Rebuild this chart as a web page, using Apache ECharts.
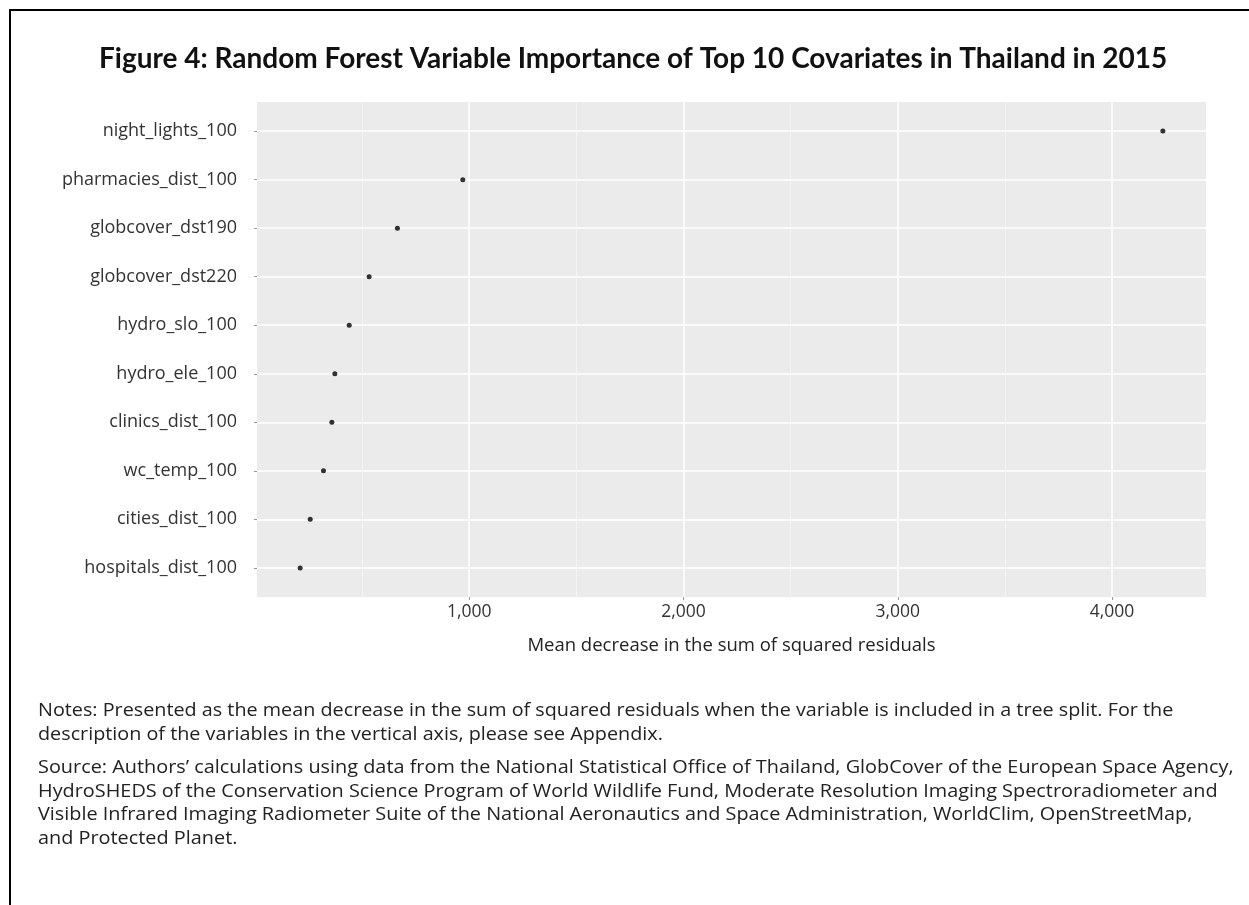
<!DOCTYPE html>
<html>
<head>
<meta charset="utf-8">
<script src="https://cdn.jsdelivr.net/npm/echarts@6/dist/echarts.min.js"></script>
<style>
html,body{margin:0;padding:0;background:#fff;}
#chart{width:1249px;height:905px;}
</style>
</head>
<body>
<div id="chart"></div>
<script>
const titleText = 'Figure 4: Random Forest Variable Importance of Top 10 Covariates in Thailand in 2015';
const variables = ['night_lights_100', 'pharmacies_dist_100', 'globcover_dst190', 'globcover_dst220', 'hydro_slo_100', 'hydro_ele_100', 'clinics_dist_100', 'wc_temp_100', 'cities_dist_100', 'hospitals_dist_100'];
const importance = [4237, 970, 665, 533, 440, 373, 359, 320, 258, 211];
const xMajorTicks = [1000, 2000, 3000, 4000];
const xMinorTicks = [500, 1500, 2500, 3500];
const xAxisName = 'Mean decrease in the sum of squared residuals';
const noteLines = [
  'Notes: Presented as the mean decrease in the sum of squared residuals when the variable is included in a tree split. For the',
  'description of the variables in the vertical axis, please see Appendix.'
];
const sourceLines = [
  'Source: Authors\u2019 calculations using data from the National Statistical Office of Thailand, GlobCover of the European Space Agency,',
  'HydroSHEDS of the Conservation Science Program of World Wildlife Fund, Moderate Resolution Imaging Spectroradiometer and',
  'Visible Infrared Imaging Radiometer Suite of the National Aeronautics and Space Administration, WorldClim, OpenStreetMap,',
  'and Protected Planet.'
];

const FONT = '"Open Sans", Lato, sans-serif';
const rowIdx = variables.map((_, i) => i);
const xMin = 9.7, xMax = 4438.3;

const chart = echarts.init(document.getElementById('chart'), null, {renderer: 'canvas'});

const textGraphics = [];
noteLines.forEach((t, i) => textGraphics.push({
  type: 'text', x: 38, y: 702 + i * 24, scaleX: 1.13,
  style: {text: t, font: '17.5px ' + FONT, fill: '#222'}
}));
sourceLines.forEach((t, i) => textGraphics.push({
  type: 'text', x: 38, y: 759 + i * 23.7, scaleX: 1.135,
  style: {text: t, font: '17.5px ' + FONT, fill: '#222'}
}));

chart.setOption({
  backgroundColor: '#ffffff',
  animation: false,
  title: {
    text: titleText, left: 94, top: 40,
    textStyle: {fontFamily: 'Lato, sans-serif', fontWeight: 'bold', fontSize: 28, color: '#111'}
  },
  graphic: [
    {type: 'rect', shape: {x: 10, y: 10, width: 1400, height: 1000}, style: {fill: 'none', stroke: '#000', lineWidth: 2}, z: 100}
  ].concat(textGraphics),
  grid: {left: 257, top: 102, right: 43, bottom: 308, show: true, backgroundColor: '#EBEBEB', borderWidth: 0},
  xAxis: [
    {
      type: 'value', min: xMin, max: xMax,
      name: xAxisName, nameLocation: 'middle', nameGap: 39,
      nameTextStyle: {fontFamily: FONT, fontSize: 18.5, color: '#222'},
      axisLine: {show: false, onZero: false},
      axisTick: {show: true, length: 3, lineStyle: {color: '#999'}, customValues: xMajorTicks},
      axisLabel: {fontFamily: FONT, fontSize: 17.5, color: '#333', margin: 6, customValues: xMajorTicks,
        formatter: v => v.toLocaleString('en-US')},
      splitLine: {show: true, lineStyle: {color: '#ffffff', width: 1.5}}
    },
    {
      type: 'value', min: xMin, max: xMax, position: 'bottom',
      axisLine: {show: false, onZero: false}, axisLabel: {show: false},
      axisTick: {show: false, customValues: xMinorTicks},
      splitLine: {show: true, lineStyle: {color: '#F6F6F6', width: 0.8}}
    }
  ],
  yAxis: {
    type: 'value', min: -0.6, max: 9.6, inverse: true,
    axisLine: {show: false, onZero: false},
    axisTick: {show: true, length: 3, lineStyle: {color: '#999'}, customValues: rowIdx},
    axisLabel: {fontFamily: FONT, fontSize: 18, color: '#333', margin: 20, customValues: rowIdx,
      formatter: v => variables[Math.round(v)] || ''},
    splitLine: {show: true, lineStyle: {color: '#ffffff', width: 1.5}}
  },
  series: [{
    type: 'scatter', xAxisIndex: 0,
    symbol: 'circle', symbolSize: 5,
    itemStyle: {color: '#000'},
    data: importance.map((v, i) => [v, i]),
    z: 10
  }]
});
</script>
</body>
</html>
